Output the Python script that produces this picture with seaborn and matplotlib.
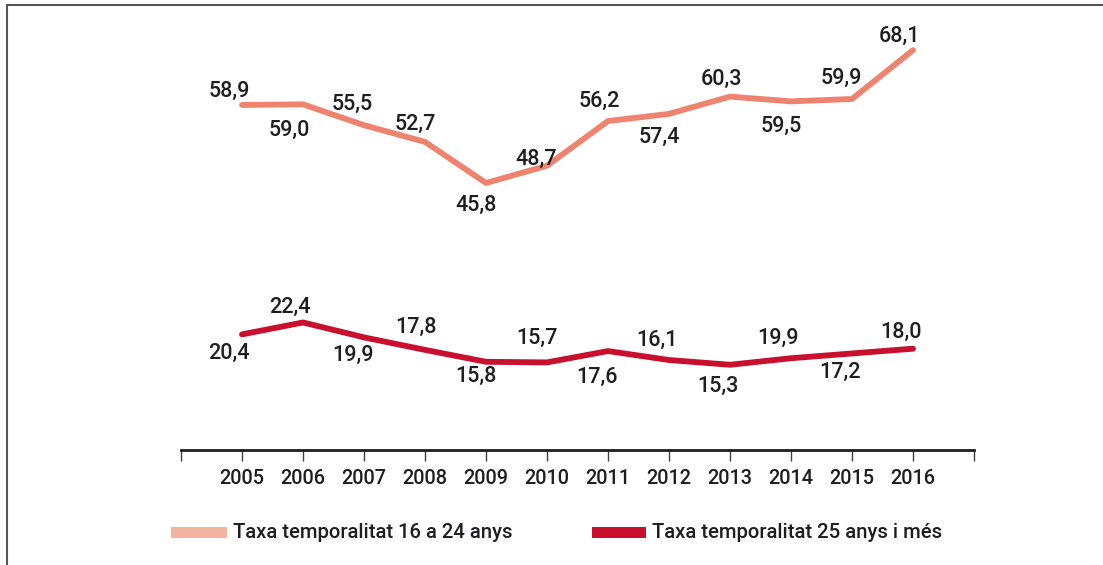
import matplotlib
matplotlib.use("Agg")
import matplotlib.pyplot as plt
import pandas as pd
import seaborn as sns
from matplotlib.lines import Line2D
from matplotlib.patches import Rectangle

years = list(range(2005, 2017))

young_vals = [58.9, 59.0, 55.5, 52.7, 45.8, 48.7, 56.2, 57.4, 60.3, 59.5, 59.9, 68.1]
young_labels = ["58,9", "59,0", "55,5", "52,7", "45,8", "48,7", "56,2", "57,4", "60,3", "59,5", "59,9", "68,1"]

# 2014 point sits well below its "19,9" label in the source chart, keep as drawn
adult_vals = [20.4, 22.4, 19.9, 17.8, 15.8, 15.7, 17.6, 16.1, 15.3, 16.4, 17.2, 18.0]
adult_labels = ["20,4", "22,4", "19,9", "17,8", "15,8", "15,7", "17,6", "16,1", "15,3", "19,9", "17,2", "18,0"]

series_names = ["Taxa temporalitat 16 a 24 anys", "Taxa temporalitat 25 anys i més"]

# label offsets in pixels (dx, dy up)
young_off = [(-13, 14), (-14, -26), (-12, 21), (-10, 18), (-10, -22), (-11, 6),
             (-9, 20), (-10, -23), (-9, 17), (-10, -25), (-11, 21), (-13, 14)]
adult_off = [(-13, -19), (-13, 15), (-11, -18), (-9, 23), (-10, -15), (-10, 24),
             (-11, -26), (-12, 20), (-12, -22), (-13, 20), (-12, -19), (-12, 16)]

c_young = "#EE836F"
c_young_leg = "#F4B2A0"
c_adult = "#C80F2E"
txt = "#1e1e22"

df = pd.DataFrame({
    "year": years * 2,
    "value": young_vals + adult_vals,
    "serie": [series_names[0]] * 12 + [series_names[1]] * 12,
})

sns.set_style("white")
plt.rcParams["font.family"] = ["Roboto", "DejaVu Sans"]
plt.rcParams["font.weight"] = "medium"

fig = plt.figure(figsize=(11.03, 5.65), dpi=100)
ax = fig.add_axes([181 / 1103, 1 - 450 / 565, 793 / 1103, (450 - 9) / 565])

sns.lineplot(data=df, x="year", y="value", hue="serie",
             palette=[c_young, c_adult], linewidth=4.2, legend=False, ax=ax,
             solid_capstyle="round")

for vals, labs, offs in [(young_vals, young_labels, young_off), (adult_vals, adult_labels, adult_off)]:
    for yr, v, lab, (dx, dy) in zip(years, vals, labs, offs):
        ax.annotate(lab, (yr, v), xytext=(dx, dy), textcoords="offset pixels",
                    ha="center", va="center", fontsize=15.5, color=txt)

ax.set_xlim(2004, 2017)
ax.set_ylim(1, 75)
ax.set_xticks(range(2004, 2018))
ax.set_xticklabels([""] + [str(y) for y in years] + [""], fontsize=14.3, color=txt)
ax.set_yticks([])
ax.set_xlabel("")
ax.set_ylabel("")
for s in ["top", "right", "left"]:
    ax.spines[s].set_visible(False)
ax.spines["bottom"].set_color(txt)
ax.spines["bottom"].set_linewidth(2)
ax.tick_params(axis="x", direction="out", length=8, width=1, color="#444444",
               pad=6, bottom=True)
ax.patch.set_alpha(0)

# outer frame (left + top only)
fig.add_artist(Line2D([7 / 1103, 7 / 1103], [0, 1 - 5 / 565], color="#555555", lw=1.5))
fig.add_artist(Line2D([7 / 1103, 1], [1 - 5 / 565, 1 - 5 / 565], color="#555555", lw=1.5))

# legend
leg_y = 1 - 538 / 565
leg_h = 11 / 565
for x0, w, col, tx, name in [(171, 56, c_young_leg, 233, series_names[0]),
                             (592, 54, c_adult, 652, series_names[1])]:
    fig.add_artist(Rectangle((x0 / 1103, leg_y), w / 1103, leg_h, color=col, lw=0))
    fig.text(tx / 1103, 1 - 532 / 565, name, ha="left", va="center",
             fontsize=14.6, color=txt)

fig.savefig("out.png", dpi=100)
